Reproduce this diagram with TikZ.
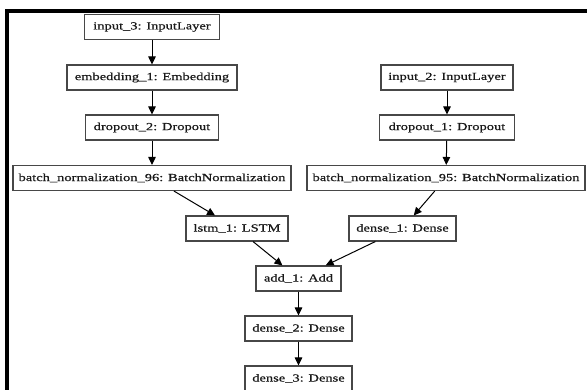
\documentclass[tikz,border=0pt]{standalone}
\usepackage{fontspec}
\setmainfont[FakeStretch=1.34,FakeBold=0.6]{Liberation Serif}
\usetikzlibrary{arrows.meta}
\tikzset{
  layer/.style={draw=black!72, line width=1.1pt, fill=white, minimum height=25pt,
    inner sep=0pt, text=black!90, font=\fontsize{10.8}{12}\selectfont},
  conn/.style={draw=black, line width=1pt, -{Triangle[length=8pt,width=7.5pt]}},
  frame/.style={line width=4pt, line join=miter}
}
\begin{document}
\begin{tikzpicture}[x=1pt,y=-1pt]
\useasboundingbox (0,0) rectangle (587,389);
\fill[white] (0,0) rectangle (587,389);
\draw[frame] (7,395) -- (7,11) -- (592,11);

\node[layer, minimum width=135pt] (in3) at (152,27) {input\_3: InputLayer};
\node[layer, minimum width=170pt] (emb) at (152,77.5) {embedding\_1: Embedding};
\node[layer, minimum width=133pt] (dr2) at (152,127.5) {dropout\_2: Dropout};
\node[layer, minimum width=278pt] (bn96) at (152,178) {batch\_normalization\_96: BatchNormalization};

\node[layer, minimum width=132pt] (in2) at (447,77.5) {input\_2: InputLayer};
\node[layer, minimum width=135pt] (dr1) at (447,127.5) {dropout\_1: Dropout};
\node[layer, minimum width=278pt] (bn95) at (446,178) {batch\_normalization\_95: BatchNormalization};

\node[layer, minimum width=102pt] (lstm) at (237,228.5) {lstm\_1: LSTM};
\node[layer, minimum width=107pt] (d1) at (402.5,228.5) {dense\_1: Dense};
\node[layer, minimum width=85pt] (add) at (298.5,278.5) {add\_1: Add};
\node[layer, minimum width=107pt] (d2) at (298.5,328.5) {dense\_2: Dense};
\node[layer, minimum width=107pt] (d3) at (298.5,378.5) {dense\_3: Dense};

\draw[conn] (in3) -- (emb);
\draw[conn] (emb) -- (dr2);
\draw[conn] (dr2) -- (bn96);
\draw[conn] (in2) -- (dr1);
\draw[conn] (dr1) -- (bn95);
\draw[conn] (bn96) -- (lstm);
\draw[conn] (bn95) -- (d1);
\draw[conn] (lstm) -- (add);
\draw[conn] (d1) -- (add);
\draw[conn] (add) -- (d2);
\draw[conn] (d2) -- (d3);
\end{tikzpicture}
\end{document}
